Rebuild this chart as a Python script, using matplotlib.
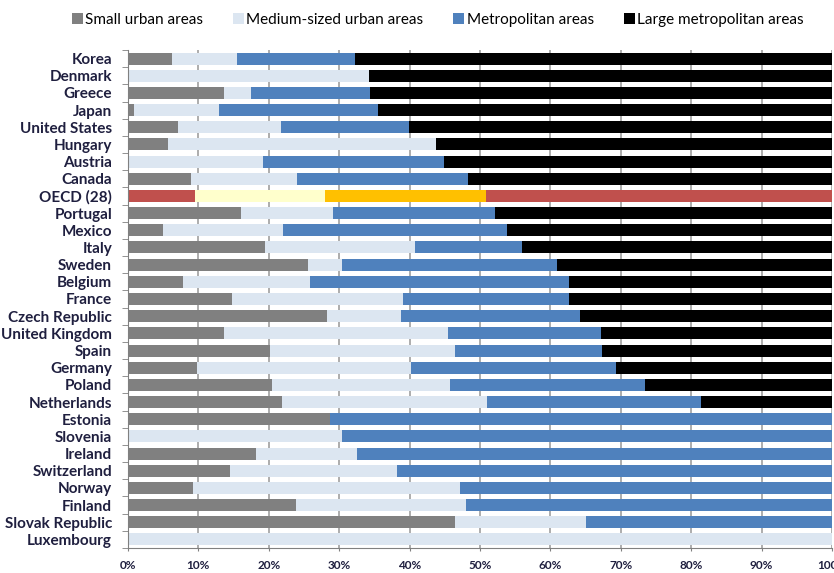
import numpy as np
import matplotlib.pyplot as plt
from matplotlib.patches import Patch

countries = ['Korea', 'Denmark', 'Greece', 'Japan', 'United States', 'Hungary',
             'Austria', 'Canada', 'OECD (28)', 'Portugal', 'Mexico', 'Italy',
             'Sweden', 'Belgium', 'France', 'Czech Republic', 'United Kingdom',
             'Spain', 'Germany', 'Poland', 'Netherlands', 'Estonia', 'Slovenia',
             'Ireland', 'Switzerland', 'Norway', 'Finland', 'Slovak Republic',
             'Luxembourg']

small = [6.3, 0, 13.6, 0.9, 7.1, 5.7, 0, 9.0, 9.5, 16.1, 5.0, 19.5, 25.6, 7.8,
         14.8, 28.3, 13.6, 20.2, 9.8, 20.5, 21.9, 28.7, 0, 18.2, 14.5, 9.3,
         23.8, 46.5, 0]
medium = [9.2, 34.2, 3.9, 12.0, 14.6, 38.1, 19.2, 15.0, 18.5, 13.0, 17.0, 21.3,
          4.8, 18.1, 24.2, 10.5, 31.8, 26.3, 30.4, 25.3, 29.1, 0, 30.4, 14.3,
          23.7, 37.9, 24.2, 18.6, 100]
metro = [16.7, 0, 16.9, 22.6, 18.2, 0, 25.7, 24.3, 22.9, 23.0, 31.8, 15.1,
         30.6, 36.7, 23.6, 25.4, 21.8, 20.9, 29.1, 27.6, 30.4, 71.3, 69.6, 67.5,
         61.8, 52.8, 52.0, 34.9, 0]
large = [67.8, 65.8, 65.6, 64.5, 60.1, 56.2, 55.1, 51.7, 49.1, 47.9, 46.2, 44.1,
         39.0, 37.4, 37.4, 35.8, 32.8, 32.6, 30.7, 26.6, 18.6, 0, 0, 0, 0, 0, 0,
         0, 0]

series = [('Small urban areas', small, '#808080', '#C0504D'),
          ('Medium-sized urban areas', medium, '#DCE6F1', '#FFFFCC'),
          ('Metropolitan areas', metro, '#4F81BD', '#FFC000'),
          ('Large metropolitan areas', large, '#000000', '#C0504D')]

plt.rcParams['font.family'] = ['Liberation Sans Narrow', 'Lato', 'DejaVu Sans']

fig = plt.figure(figsize=(8.34, 5.73), dpi=100)
ax = fig.add_axes([128 / 834, 25 / 573, 704 / 834, 498 / 573])

y = np.arange(len(countries))
left = np.zeros(len(countries))
for name, vals, col, oecd_col in series:
    vals = np.array(vals)
    cols = [oecd_col if c == 'OECD (28)' else col for c in countries]
    ax.barh(y, vals, left=left, height=0.7, color=cols, zorder=2)
    left += vals

ax.set_xlim(0, 100)
ax.set_ylim(len(countries) - 0.5, -0.5)
ax.set_xticks(np.arange(0, 101, 10))
ax.set_xticklabels(['%d%%' % v for v in range(0, 101, 10)], fontsize=8.5,
                   fontweight='bold', color='#1F1F3F')
ax.set_yticks(y)
ax.set_yticklabels(countries, fontsize=11, fontweight='bold', color='#1F1F3F')
ax.set_yticks(np.arange(len(countries) + 1) - 0.5, minor=True)
ax.tick_params(axis='y', which='major', length=0, pad=11.5)
ax.tick_params(axis='y', which='minor', length=4, color='#808080')
ax.tick_params(axis='x', length=2.5, color='#808080', pad=6)
ax.xaxis.grid(True, color='#A0A0A0', linewidth=1.2, zorder=0)
ax.set_axisbelow(True)
for s in ['top', 'right']:
    ax.spines[s].set_visible(False)
ax.spines['left'].set_color('#808080')
ax.spines['bottom'].set_color('#808080')

handles = [Patch(facecolor=c, label=n) for n, v, c, o in series]
fig.legend(handles=handles, loc='center left',
           bbox_to_anchor=(72 / 834, 1 - 20 / 573),
           ncol=4, frameon=False, fontsize=11, handlelength=0.72,
           handleheight=0.72, handletextpad=0.15, columnspacing=1.95,
           borderpad=0, borderaxespad=0)

fig.savefig('out.png', dpi=100)
